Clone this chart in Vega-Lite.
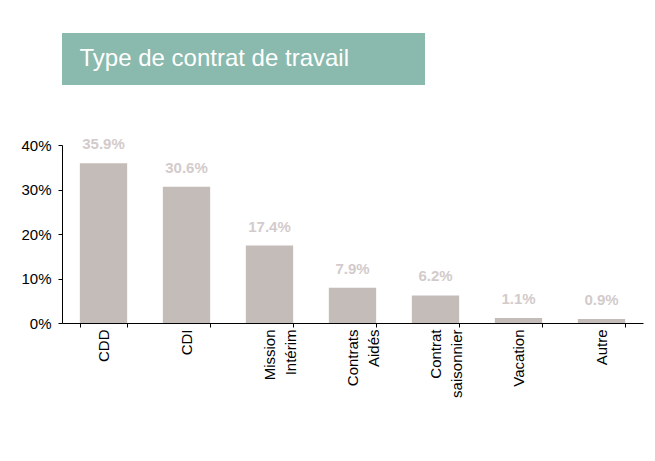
{
  "$schema": "https://vega.github.io/schema/vega-lite/v6.json",
  "padding": {"left": 20, "top": 33, "right": 5, "bottom": 5},
  "background": "white",
  "align": "none",
  "config": {
    "font": "Liberation Sans",
    "view": {"stroke": null},
    "concat": {"spacing": 52},
    "axis": {"labelFont": "Liberation Sans", "labelColor": "#000000", "domainColor": "#000000", "tickColor": "#000000", "grid": false, "title": null}
  },
  "vconcat": [
    {
      "width": 363,
      "height": 52,
      "view": {"fill": "#8ab9ad", "stroke": null},
      "data": {"values": [{"titre": "Type de contrat de travail", "pos": 1}]},
      "mark": {"type": "text", "align": "left", "baseline": "middle", "dx": -164, "fontSize": 24, "color": "#ffffff"},
      "encoding": {
        "text": {"field": "titre"},
        "y": {"field": "pos", "type": "quantitative", "scale": {"domain": [0, 2]}, "axis": {"labels": false, "domain": false, "ticks": true, "tickSize": 13, "tickColor": "transparent", "values": [1], "minExtent": 13}}
      }
    },
    {
      "width": 581,
      "height": 178,
      "data": {
        "values": [
          {"type": "CDD", "part": 0.359},
          {"type": "CDI", "part": 0.306},
          {"type": "Mission|Intérim", "part": 0.174},
          {"type": "Contrats|Aidés", "part": 0.079},
          {"type": "Contrat|saisonnier", "part": 0.062},
          {"type": "Vacation", "part": 0.011},
          {"type": "Autre", "part": 0.009}
        ]
      },
      "encoding": {
        "x": {
          "field": "type",
          "type": "nominal",
          "sort": null,
          "scale": {"paddingInner": 0.43, "paddingOuter": 0.215},
          "axis": {
            "labelAngle": -90,
            "labelFontSize": 15,
            "labelLineHeight": 21,
            "labelExpr": "split(datum.label, '|')",
            "tickBand": "extent",
            "tickSize": 4,
            "labelPadding": 2
          }
        },
        "y": {
          "field": "part",
          "type": "quantitative",
          "scale": {"domain": [0, 0.4]},
          "axis": {
            "values": [0, 0.1, 0.2, 0.3, 0.4],
            "format": ".0%",
            "labelFontSize": 15,
            "tickSize": 4,
            "labelPadding": 7
          }
        }
      },
      "layer": [
        {"mark": {"type": "bar", "color": "#c4bcb9"}},
        {
          "mark": {"type": "text", "dy": -14, "baseline": "alphabetic", "fontWeight": "bold", "fontSize": 15, "color": "#d3cbcb"},
          "encoding": {"text": {"field": "part", "format": ".1%"}}
        }
      ]
    }
  ]
}
